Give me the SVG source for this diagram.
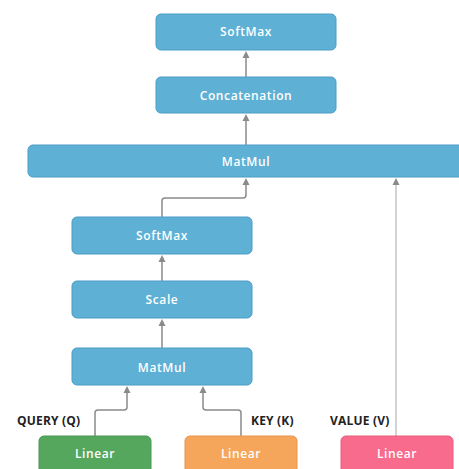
<svg xmlns="http://www.w3.org/2000/svg" width="459" height="469" viewBox="0 0 459 469">
<defs>
<style>
.b{fill:#5eb0d5;stroke:#4a9dc6;stroke-width:1}
.t{font-family:"Open Sans","Liberation Sans",sans-serif;font-size:12px;fill:#ffffff;text-anchor:middle;font-weight:600;letter-spacing:0.6px}
.l{font-family:"Open Sans","Liberation Sans",sans-serif;font-size:12px;fill:#222;font-weight:700;letter-spacing:0.2px}
.c{fill:none;stroke:#8a8a8a;stroke-width:1.5;marker-end:url(#a)}
</style>
<marker id="a" markerWidth="8" markerHeight="8" refX="4" refY="4" orient="auto" markerUnits="userSpaceOnUse">
<path d="M0,0.5 L7,4 L0,7.5 z" fill="#8a8a8a"/>
</marker>
</defs>
<rect width="459" height="469" fill="#ffffff"/>
<g id="connectors">
<path class="c" d="M246,77 V54"/>
<path class="c" d="M246,145 V117"/>
<path class="c" d="M162,217 V201 Q162,198 165,198 H243 Q246,198 246,195 V181"/>
<path class="c" d="M162,281 V258"/>
<path class="c" d="M162,348 V322"/>
<path class="c" d="M95,436 V413 Q95,410 98,410 H124 Q127,410 127,407 V389"/>
<path class="c" d="M241,436 V413 Q241,410 238,410 H206 Q203,410 203,407 V389"/>
<path class="c" d="M396,436 V181" style="stroke:#c4c4c4"/>
</g>
<g id="softmax-top"><rect class="b" x="156" y="14" width="180" height="36" rx="5"/><text class="t" x="246" y="36">SoftMax</text></g>
<g id="concatenation"><rect class="b" x="156" y="77" width="180" height="36" rx="5"/><text class="t" x="246" y="100">Concatenation</text></g>
<g id="matmul-top"><rect class="b" x="28" y="145" width="440" height="32" rx="5"/><text class="t" x="246" y="166">MatMul</text></g>
<g id="softmax"><rect class="b" x="72" y="217" width="180" height="37" rx="5"/><text class="t" x="162" y="240">SoftMax</text></g>
<g id="scale"><rect class="b" x="72" y="281" width="180" height="37" rx="5"/><text class="t" x="162" y="304">Scale</text></g>
<g id="matmul"><rect class="b" x="72" y="348" width="180" height="37" rx="5"/><text class="t" x="162" y="372">MatMul</text></g>
<g id="query-label"><text class="l" x="17" y="425">QUERY (Q)</text></g>
<g id="key-label"><text class="l" x="251" y="425">KEY (K)</text></g>
<g id="value-label"><text class="l" x="330" y="425">VALUE (V)</text></g>
<g id="linear-q"><rect x="39" y="436" width="112" height="40" rx="5" fill="#56a75e" stroke="#4a9852"/><text class="t" x="95" y="458">Linear</text></g>
<g id="linear-k"><rect x="185" y="436" width="112" height="40" rx="5" fill="#f5a65b" stroke="#e6954c"/><text class="t" x="241" y="458">Linear</text></g>
<g id="linear-v"><rect x="341" y="436" width="112" height="40" rx="5" fill="#f86b8c" stroke="#e85c7d"/><text class="t" x="397" y="458">Linear</text></g>
</svg>
